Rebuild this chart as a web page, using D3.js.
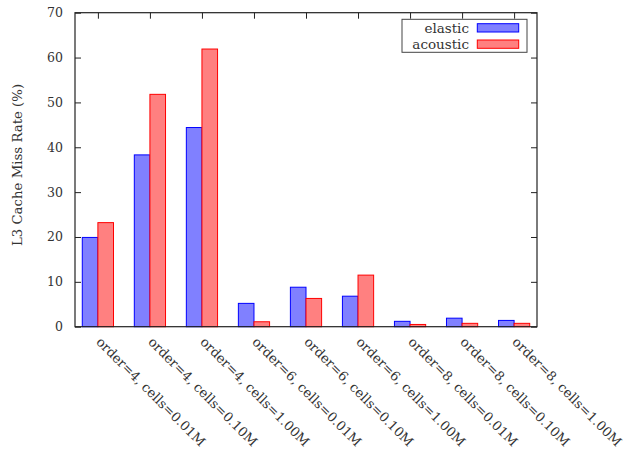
<!DOCTYPE html>
<html><head><meta charset="utf-8">
<script src="https://cdn.jsdelivr.net/npm/d3@7"></script>
<style>body{margin:0;background:#fff}svg{display:block}</style>
</head><body>
<script>
const categories = ["order=4, cells=0.01M","order=4, cells=0.10M","order=4, cells=1.00M","order=6, cells=0.01M","order=6, cells=0.10M","order=6, cells=1.00M","order=8, cells=0.01M","order=8, cells=0.10M","order=8, cells=1.00M"];
const elastic  = [19.9, 38.3, 44.4, 5.2, 8.8, 6.8, 1.2, 1.9, 1.4];
const acoustic = [23.2, 51.8, 61.9, 1.1, 6.3, 11.5, 0.5, 0.75, 0.75];
const yTicks = [0,10,20,30,40,50,60,70];
const seriesNames = ["elastic","acoustic"];

const W=626,H=456;
const m={l:75,t:12.7,r:537,b:326.7};
const font="'DejaVu Serif', serif";
const fs=13.5;
const svg=d3.select("body").append("svg").attr("width",W).attr("height",H);
const x=d3.scaleLinear().domain([-0.44,8.44]).range([m.l,m.r]);
const y=d3.scaleLinear().domain([0,70]).range([m.b,m.t]);
const bw=x(0.3)-x(0);

const series=[{name:seriesNames[0],vals:elastic,fill:"#8080ff",stroke:"#0000ff",off:-1},
              {name:seriesNames[1],vals:acoustic,fill:"#ff8080",stroke:"#ff0000",off:0}];
series.forEach(s=>{
  svg.append("g").selectAll("rect").data(s.vals).join("rect")
    .attr("x",(d,i)=>x(i)+s.off*bw).attr("y",d=>y(d))
    .attr("width",bw).attr("height",d=>y(0)-y(d))
    .attr("fill",s.fill).attr("stroke",s.stroke).attr("stroke-width",1);
});

// frame
svg.append("rect").attr("x",m.l).attr("y",m.t).attr("width",m.r-m.l).attr("height",m.b-m.t)
  .attr("fill","none").attr("stroke","#222").attr("stroke-width",1.2);

// y axis left
const ya=svg.append("g").attr("transform",`translate(${m.l},0)`)
  .call(d3.axisLeft(y).tickValues(yTicks).tickSize(-6).tickPadding(12));
ya.select(".domain").remove();
ya.selectAll("text").attr("font-family",font).attr("font-size",12.5).attr("fill","#333");
ya.selectAll("line").attr("stroke","#222");
// y axis right mirror
const yr=svg.append("g").attr("transform",`translate(${m.r},0)`)
  .call(d3.axisRight(y).tickValues(yTicks).tickSize(-6).tickFormat(""));
yr.select(".domain").remove();
yr.selectAll("line").attr("stroke","#222");
// x top mirror ticks
const xt=svg.append("g").attr("transform",`translate(0,${m.t})`)
  .call(d3.axisTop(x).tickValues(d3.range(categories.length)).tickSize(-6).tickFormat(""));
xt.select(".domain").remove();
xt.selectAll("line").attr("stroke","#222");
// x bottom labels
const xb=svg.append("g").attr("transform",`translate(0,${m.b})`)
  .call(d3.axisBottom(x).tickValues(d3.range(categories.length)).tickSize(0).tickFormat(i=>categories[i]));
xb.select(".domain").remove();
xb.selectAll("text").attr("font-family",font).attr("font-size",13.1).attr("fill","#333")
  .attr("text-anchor","start").attr("dy",null).attr("y",0)
  .attr("transform","translate(-3,16) rotate(45)");

// y label
svg.append("text").attr("transform","translate(22,165) rotate(-90)")
  .attr("text-anchor","middle").attr("font-family",font).attr("font-size",13.3).attr("fill","#333")
  .text("L3 Cache Miss Rate (%)");

// legend
const lg=svg.append("g");
lg.append("rect").attr("x",402).attr("y",19.3).attr("width",125).attr("height",33)
  .attr("fill","#fff").attr("stroke","#444").attr("stroke-width",1);
series.forEach((s,i)=>{
  lg.append("text").attr("x",469).attr("y",33+i*16).attr("text-anchor","end")
    .attr("font-family",font).attr("font-size",fs).attr("fill","#333").text(s.name);
  lg.append("rect").attr("x",477.3).attr("y",23.7+i*16.3).attr("width",41.4).attr("height",8.3)
    .attr("fill",s.fill).attr("stroke",s.stroke).attr("stroke-width",1);
});
</script>
</body></html>
